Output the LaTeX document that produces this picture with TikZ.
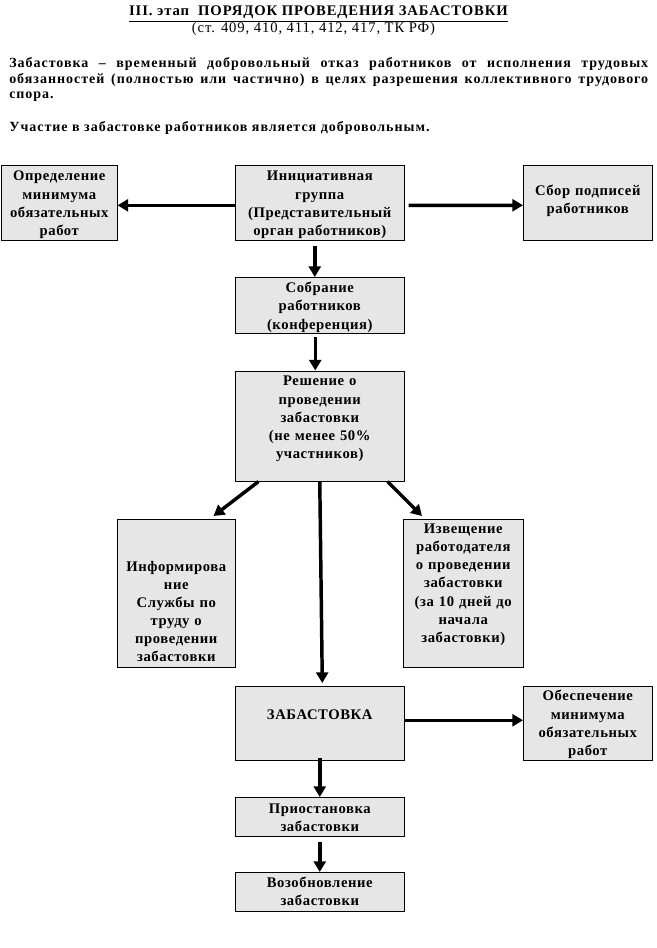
\documentclass[tikz,border=0pt]{standalone}
\usepackage{fontspec}
\setmainfont{Liberation Serif}
\newfontfamily\stagefont[LetterSpace=4]{Liberation Serif}
\newfontfamily\leadfont[LetterSpace=7]{Liberation Serif}
\newfontfamily\headfont[LetterSpace=6]{Liberation Serif}
\newfontfamily\citefont[LetterSpace=6]{Liberation Serif}
\usepackage{tikz}
\usetikzlibrary{arrows.meta}
\definecolor{boxgray}{RGB}{230,230,230}
\tikzset{
  stage/.style={draw, fill=boxgray, inner sep=0pt, anchor=north west, align=center, font=\stagefont\bfseries\fontsize{11}{13.6}\selectfont},
  flow/.style={line width=2.6pt, -{Triangle[length=8pt,width=9pt]}},
  plain/.style={inner sep=0pt, font=\leadfont\bfseries\fontsize{10.5}{11.6}\selectfont}
}
\begin{document}
\begin{tikzpicture}[x=0.75pt, y=-0.75pt]
\useasboundingbox (0,0) rectangle (656,948);
\node[plain, anchor=base, font=\headfont\bfseries\fontsize{11}{13}\selectfont] (title) at (318.5,16) {\underline{III. этап\ \ ПОРЯДОК ПРОВЕДЕНИЯ ЗАБАСТОВКИ}};
\node[plain, anchor=base, font=\citefont\fontsize{11}{13}\selectfont] (articles) at (313.5,33) {(ст. 409, 410, 411, 412, 417, ТК РФ)};
\node[plain, anchor=base west, text width=479.25pt, align=justify] (definition) at (9,68) {Забастовка – временный добровольный отказ работников от исполнения трудовых\linebreak обязанностей (полностью или частично) в целях разрешения коллективного трудового\linebreak спора.};
\node[plain, anchor=base west] (voluntary) at (9,132) {Участие в забастовке работников является добровольным.};

\node[stage, text width=87pt, text height=11.8pt, text depth=44.5pt] (rule) at (1,165) {Определение\\минимума\\обязательных\\работ};
\node[stage, text width=126.75pt, text height=11.8pt, text depth=44.5pt] (initiative) at (235,165) {Инициативная\\группа\\(Представительный\\орган работников)};
\node[stage, text width=96.75pt, text height=22.5pt, text depth=33.75pt] (signatures) at (523,165) {Сбор подписей\\работников};
\node[stage, text width=126.75pt, text height=11.6pt, text depth=30.4pt] (meeting) at (235,277) {Собрание\\работников\\(конференция)};
\node[stage, text width=126.75pt, text height=11.4pt, text depth=71.5pt] (decision) at (235,370.5) {Решение о\\проведении\\забастовки\\(не менее 50\%\\участников)};
\node[stage, text width=88.5pt, text height=38.8pt, text depth=72.2pt] (informing) at (117,519) {Информирова\\ние\\Службы по\\труду о\\проведении\\забастовки};
\node[stage, text width=90pt, text height=10.7pt, text depth=100.3pt] (notice) at (403,519) {Извещение\\работодателя\\о проведении\\забастовки\\(за 10 дней до\\начала\\забастовки)};
\node[stage, text width=126.75pt, text height=24.75pt, text depth=30.75pt] (strike) at (235,686) {ЗАБАСТОВКА};
\node[stage, text width=96.75pt, text height=11pt, text depth=44.5pt] (minimum) at (523,686) {Обеспечение\\минимума\\обязательных\\работ};
\node[stage, text width=126.75pt, text height=11.8pt, text depth=17.5pt] (pause) at (235,797) {Приостановка\\забастовки};
\node[stage, text width=126.75pt, text height=11.5pt, text depth=17.75pt] (resume) at (235,872) {Возобновление\\забастовки};

\draw[flow] ([yshift=-1.9pt]initiative.west) -- ([yshift=-1.9pt]rule.east);
\draw[flow] ([xshift=3pt,yshift=-1.9pt]initiative.east) -- ([yshift=-1.9pt]signatures.west);
\draw[flow] ([xshift=-3.75pt,yshift=-3.75pt]initiative.south) -- ([xshift=-3.75pt]meeting.north);
\draw[flow] ([xshift=-3.4pt,yshift=-2.5pt]meeting.south) -- ([xshift=-3.4pt]decision.north);
\draw[flow] ([xshift=17.6pt]decision.south west) -- ([xshift=-16.5pt,yshift=2.25pt]informing.north east);
\draw[flow] ([xshift=-12.75pt]decision.south east) -- ([xshift=14.25pt,yshift=2.25pt]notice.north west);
\draw[flow] (decision.south) -- ([xshift=1.9pt,yshift=2.25pt]strike.north);
\draw[flow] ([yshift=2.25pt]strike.east) -- ([yshift=2.25pt]minimum.west);
\draw[flow] ([yshift=2.25pt]strike.south) -- (pause.north);
\draw[flow] ([yshift=-3.75pt]pause.south) -- (resume.north);
\end{tikzpicture}
\end{document}
